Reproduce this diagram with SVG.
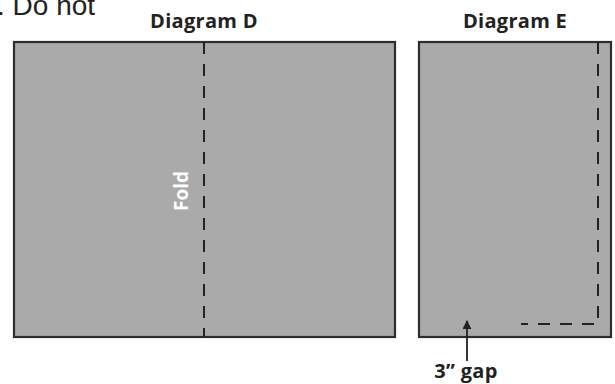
<svg xmlns="http://www.w3.org/2000/svg" width="615" height="384" viewBox="0 0 615 384">
<style>
.sheet{fill:#aaaaaa;stroke:#2d2d2d;stroke-width:2.2}
.fold{fill:none;stroke:#222;stroke-width:2;stroke-dasharray:12 10}
.title{font-family:"Open Sans",Lato,sans-serif;font-weight:bold;font-size:20px;letter-spacing:0.3px;fill:#222;text-anchor:middle}
</style>
<defs>
<marker id="ah" viewBox="0 0 10 10" refX="9" refY="5" markerWidth="9" markerHeight="9" markerUnits="userSpaceOnUse" orient="auto">
<path d="M0,0 L10,5 L0,10 z" fill="#222"/>
</marker>
</defs>
<rect width="615" height="384" fill="#ffffff"/>
<text x="-3" y="15" font-family="'Liberation Sans',Arial,sans-serif" font-size="28" fill="#222">. Do not</text>
<g id="diagramD">
<text class="title" x="204" y="28">Diagram D</text>
<rect class="sheet" x="14" y="42" width="381" height="295"/>
<line class="fold" x1="204" y1="42" x2="204" y2="337"/>
<text x="188" y="191" transform="rotate(-90 188 191)" font-family="'Open Sans',Lato,sans-serif" font-weight="bold" font-size="19" fill="#ffffff" text-anchor="middle">Fold</text>
</g>
<g id="diagramE">
<text class="title" x="515" y="28">Diagram E</text>
<rect class="sheet" x="419" y="42" width="192" height="295"/>
<polyline class="fold" points="598,42 598,324 521,324"/>
</g>
<g id="connectors">
<line x1="467" y1="361" x2="467" y2="321" stroke="#222" stroke-width="1.8" marker-end="url(#ah)"/>
</g>
<text x="466" y="378" font-family="'Open Sans',Lato,sans-serif" font-weight="bold" font-size="20" letter-spacing="0.3" fill="#222" text-anchor="middle">3” gap</text>
</svg>
